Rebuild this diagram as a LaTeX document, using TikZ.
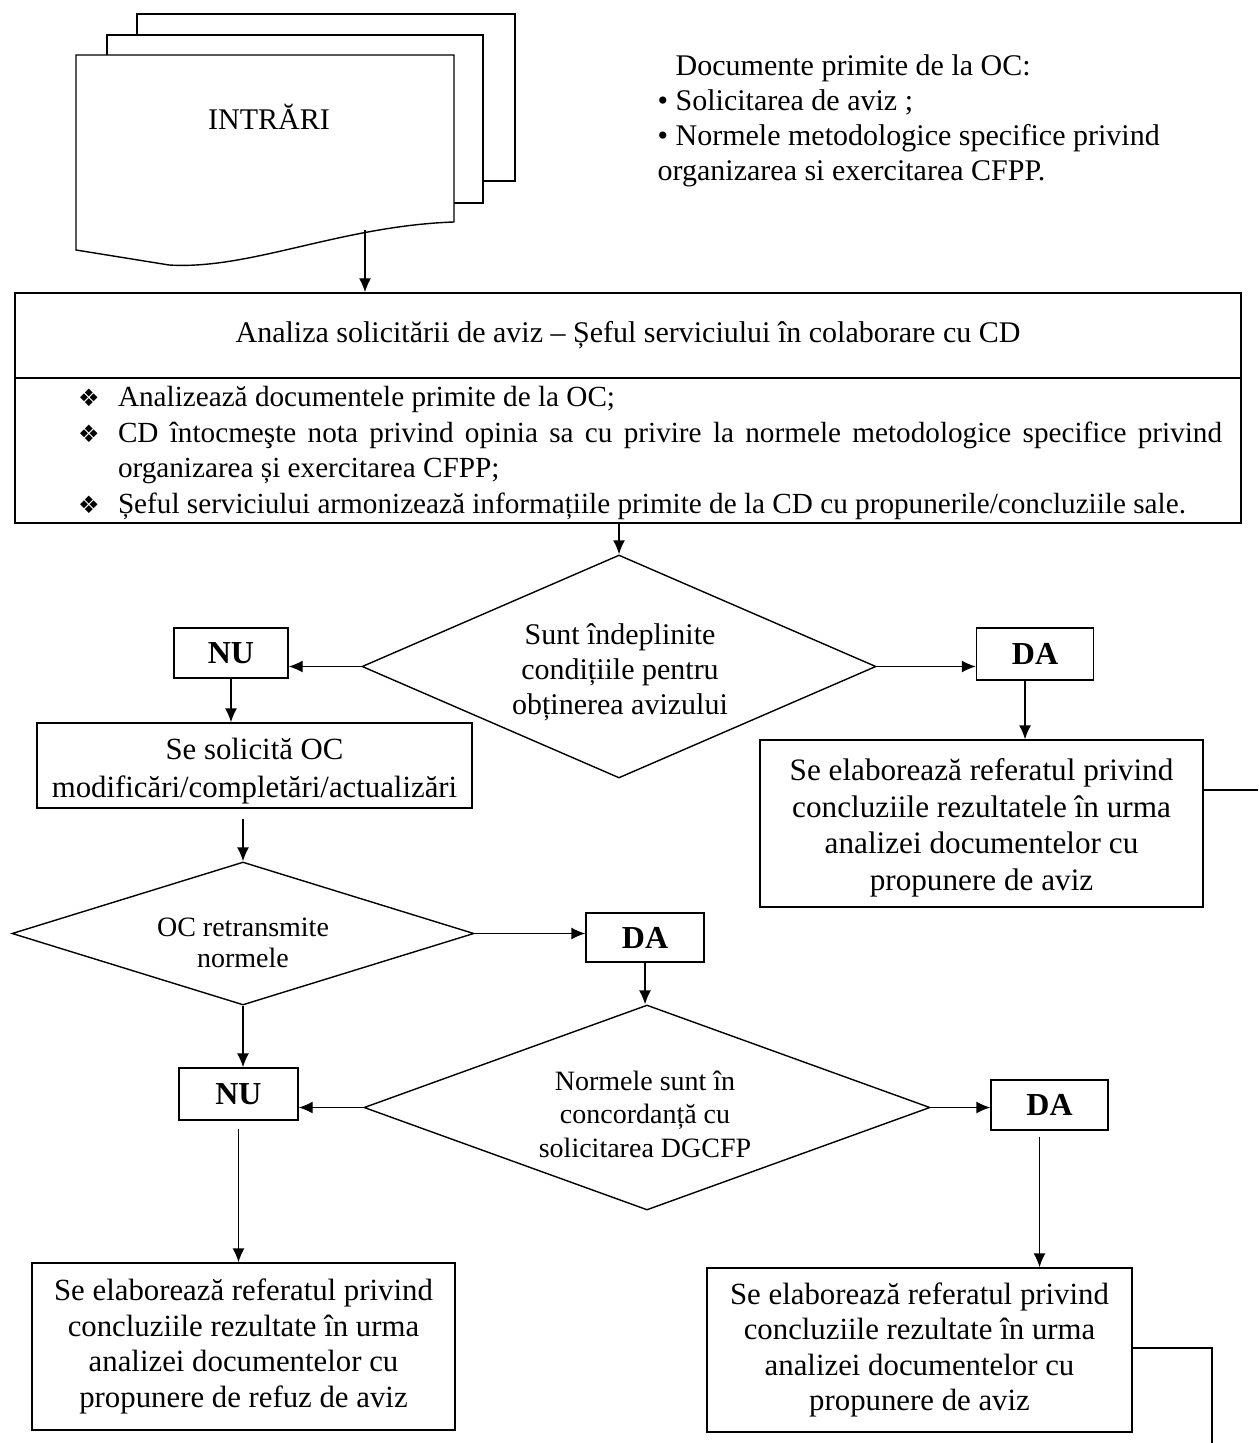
\documentclass[tikz,border=0pt]{standalone}
\usepackage{fontspec}
\setmainfont{Liberation Serif}
\newfontfamily\symfont{DejaVu Sans}
\usetikzlibrary{shapes.geometric,arrows.meta,calc,math}

% one bullet line of the task list
\newcommand{\marcaj}[1]{\par\noindent\hangindent=20pt\hangafter=1%
  \makebox[20pt][l]{\symfont\fontsize{12}{12}\selectfont ❖}#1}

\begin{document}
\begin{tikzpicture}[x=0.5pt,y=-0.5pt,>/.tip={Latex[length=7pt,width=6pt]},
    line width=0.7pt,
    every node/.style={font=\fontsize{15}{17.7}\selectfont},
    box/.style={draw,align=center,inner sep=0pt},
    answer/.style={draw,inner sep=0pt,font=\fontsize{16}{18}\selectfont\bfseries},
    decision/.style={draw,diamond,inner sep=0pt},
    question/.style={inner sep=0pt,align=center}]
    \tikzmath{\lw=1258;\lh=1443;}
    \useasboundingbox (0,0) rectangle (\lw,\lh);
    % The stacked input documents
    \draw[fill=white] (137,14) rectangle (515,181);
    \draw[fill=white] (107,35) rectangle (483,203);
    \draw[fill=white] (76,55) -- (454,55) -- (454,222)
      .. controls (340,226) and (250,270) .. (169,265) -- (76,250) -- cycle;
    \node (intrari) at (269,117) {INTRĂRI};
    \coordinate (docout) at (365,230);
    \node[anchor=north west,inner sep=0pt,align=left,
      font=\fontsize{15}{17.5}\selectfont] (primite) at (657,54)
      {\hspace*{9pt}Documente primite de la OC:\\
       • Solicitarea de aviz ;\\
       • Normele metodologice specifice privind\\
       organizarea si exercitarea CFPP.};
    % The analysis box
    \node[box,minimum width=613pt,minimum height=42.5pt] (analiza) at (628,335.5)
      {Analiza solicitării de aviz – Șeful serviciului în colaborare cu CD};
    \node[box,minimum width=613pt,minimum height=72.5pt] (sarcini) at (628,450.5) {};
    \node[inner sep=0pt,text width=572pt,align=justify,
      font=\fontsize{14.6}{17.7}\selectfont] (lista) at (650,445.5) {%
      \marcaj{Analizează documentele primite de la OC;}
      \marcaj{CD întocmeşte nota privind opinia sa cu privire la normele metodologice specifice privind\linebreak
        organizarea și exercitarea CFPP;}
      \marcaj{Șeful serviciului armonizează informațiile primite de la CD cu propunerile/concluziile sale.}};
    % First decision
    \node[decision,minimum width=257pt,minimum height=111.5pt] (conditii) at (619,666.5) {};
    \node[question,font=\fontsize{15}{17.5}\selectfont] (conditii-txt) at (620,672)
      {Sunt îndeplinite\\condițiile pentru\\obținerea avizului};
    \node[answer,minimum width=57pt,minimum height=25pt] (nu1) at (231,653) {NU};
    \node[answer,minimum width=58.5pt,minimum height=26pt] (da1) at (1035,654) {DA};
    \node[box,minimum width=217.5pt,minimum height=42.5pt] (solicita) at (254.5,765.5) {};
    \node[question,font=\fontsize{15.4}{19}\selectfont] (solicita-txt) at (254.5,771)
      {Se solicită OC\\modificări/completări/actualizări};
    \node[box,minimum width=221.5pt,minimum height=83.5pt] (referat1) at (981.5,823.5) {};
    \node[question,font=\fontsize{15.6}{18.3}\selectfont] (referat1-txt) at (981.5,828)
      {Se elaborează referatul privind\\concluziile rezultatele în urma\\analizei documentelor cu\\propunere de aviz};
    \coordinate (iesire1) at (\lw,790);
    % Second decision
    \node[decision,minimum width=231pt,minimum height=71.5pt] (retrans) at (243,933.5) {};
    \node[question,font=\fontsize{14}{15.5}\selectfont] (retrans-txt) at (243,943)
      {OC retransmite\\normele};
    \node[answer,minimum width=59pt,minimum height=24.5pt] (da2) at (645,937.5) {DA};
    % Third decision
    \node[decision,minimum width=283pt,minimum height=102.5pt] (concord) at (647,1107.5) {};
    \node[question,font=\fontsize{14}{16.8}\selectfont] (concord-txt) at (645,1114)
      {Normele sunt în\\concordanță cu\\solicitarea DGCFP};
    \node[answer,minimum width=59.5pt,minimum height=26pt] (nu2) at (238.5,1094) {NU};
    \node[answer,minimum width=58.5pt,minimum height=25pt] (da3) at (1049.5,1105) {DA};
    \node[box,minimum width=211.5pt,minimum height=83.5pt,
      font=\fontsize{15.4}{17.7}\selectfont] (refuz) at (243.5,1346.5)
      {Se elaborează referatul privind\\concluziile rezultate în urma\\analizei documentelor cu\\propunere de refuz de aviz};
    \node[box,minimum width=212.5pt,minimum height=82pt,
      font=\fontsize{15.4}{17.7}\selectfont] (referat2) at (919.5,1350)
      {Se elaborează referatul privind\\concluziile rezultate în urma\\analizei documentelor cu\\propunere de aviz};
    \coordinate (cot2) at (1212,1348);
    \coordinate (iesire2) at (1212,\lh);
    % The connectors
    \draw[->] (docout) -- (docout |- analiza.north);
    \draw[->] (conditii.north |- sarcini.south) -- (conditii.north);
    \draw[->] (conditii.west) -- (conditii.west -| nu1.east);
    \draw[->] (conditii.east) -- (conditii.east -| da1.west);
    \draw[->] (nu1.south) -- (nu1.south |- solicita.north);
    \draw[->] ([xshift=-5pt]da1.south) -- ([xshift=-5pt]da1.south |- referat1.north);
    \draw (iesire1 -| referat1.east) -- (iesire1);
    \draw[->] ([yshift=-5pt]retrans.north |- solicita.south) -- (retrans.north);
    \draw[->] (retrans.east) -- (retrans.east -| da2.west);
    \draw[->] (da2.south) -- (da2.south |- concord.north);
    \draw[->] (retrans.south) -- (retrans.south |- nu2.north);
    \draw[->] (concord.west) -- (concord.west -| nu2.east);
    \draw[->] (concord.east) -- (concord.east -| da3.west);
    \draw[->] ([yshift=-4pt]nu2.south) -- (nu2.south |- refuz.north);
    \draw[->] ([xshift=-5pt,yshift=-3pt]da3.south) -- ([xshift=-5pt]da3.south |- referat2.north);
    \draw (cot2 -| referat2.east) -- (cot2) -- (iesire2);
\end{tikzpicture}
\end{document}
